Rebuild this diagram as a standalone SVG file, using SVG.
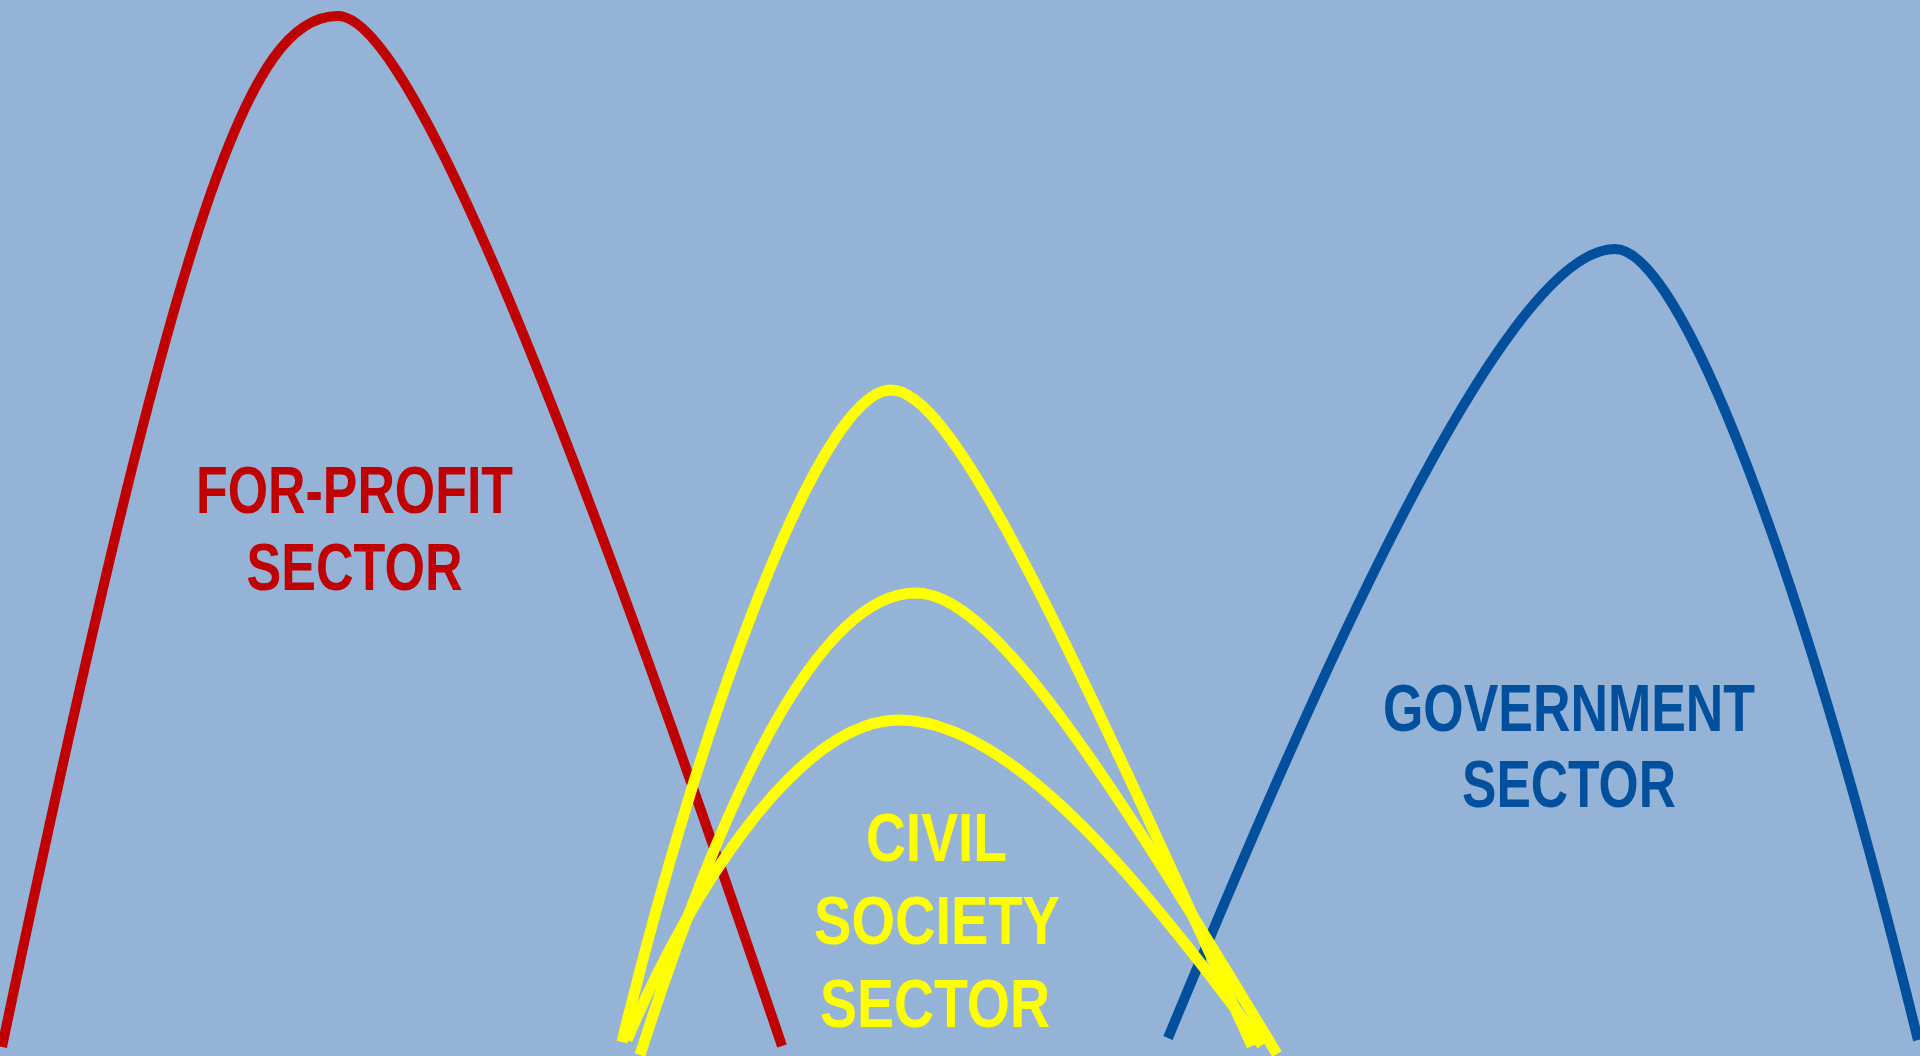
<svg xmlns="http://www.w3.org/2000/svg" width="1920" height="1056" viewBox="0 0 1920 1056">
  <style>
    .curve { fill: none; stroke-linecap: butt; stroke-linejoin: round; }
    .red { stroke: #C00000; stroke-width: 10; }
    .blue { stroke: #00509E; stroke-width: 10; }
    .yellow { stroke: #FFFF00; stroke-width: 11; }
    .lbl { font-family: "Liberation Sans", Arial, sans-serif; font-weight: bold; text-anchor: middle; }
  </style>
  <rect x="0" y="0" width="1920" height="1056" fill="#95B3D7"/>
  <g id="connectors">
    <path id="for-profit-curve" class="curve red" d="M 2,1047 C 180,200 250,16 338,16 C 410,16 570,420 782,1046"/>
    <path id="government-curve" class="curve blue" d="M 1168,1038 C 1300,720 1500,249 1615,249 C 1680,249 1800,560 1918,1040"/>
    <path id="civil-curve-tall" class="curve yellow" d="M 622,1042 C 700,720 820,390 891,390 C 950,390 1050,600 1252,1046"/>
    <path id="civil-curve-mid" class="curve yellow" d="M 640,1055 C 725,790 820,593 916,593 C 990,593 1100,760 1277,1054"/>
    <path id="civil-curve-low" class="curve yellow" d="M 627,1040 C 690,890 800,720 899,720 C 1000,720 1120,850 1262,1045"/>
  </g>
  <g id="for-profit-sector">
    <text class="lbl" x="354.5" y="513" font-size="66" fill="#C00000" textLength="317" lengthAdjust="spacingAndGlyphs">FOR-PROFIT</text>
    <text class="lbl" x="354.5" y="590" font-size="66" fill="#C00000" textLength="216" lengthAdjust="spacingAndGlyphs">SECTOR</text>
  </g>
  <g id="civil-society-sector">
    <text class="lbl" x="936.5" y="861" font-size="69" fill="#FFFF00" textLength="141" lengthAdjust="spacingAndGlyphs">CIVIL</text>
    <text class="lbl" x="937" y="944" font-size="69" fill="#FFFF00" textLength="246" lengthAdjust="spacingAndGlyphs">SOCIETY</text>
    <text class="lbl" x="935" y="1027" font-size="69" fill="#FFFF00" textLength="230" lengthAdjust="spacingAndGlyphs">SECTOR</text>
  </g>
  <g id="government-sector">
    <text class="lbl" x="1569" y="731" font-size="66" fill="#00509E" textLength="372" lengthAdjust="spacingAndGlyphs">GOVERNMENT</text>
    <text class="lbl" x="1569" y="807" font-size="66" fill="#00509E" textLength="214" lengthAdjust="spacingAndGlyphs">SECTOR</text>
  </g>
</svg>
